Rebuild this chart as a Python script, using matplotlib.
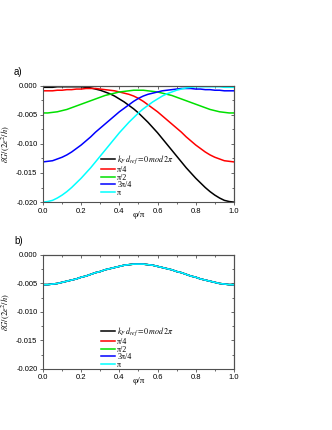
import matplotlib
matplotlib.use("Agg")
import matplotlib.pyplot as plt
from matplotlib.ticker import MultipleLocator, FormatStrFormatter

plt.rcParams['font.family'] = ['Liberation Sans', 'DejaVu Sans']
plt.rcParams['mathtext.fontset'] = 'stix'
plt.rcParams['axes.unicode_minus'] = False

# phase phi/pi, step 0.025
phi = [0.000, 0.025, 0.050, 0.075, 0.100, 0.125, 0.150, 0.175, 0.200, 0.225,
       0.250, 0.275, 0.300, 0.325, 0.350, 0.375, 0.400, 0.425, 0.450, 0.475,
       0.500, 0.525, 0.550, 0.575, 0.600, 0.625, 0.650, 0.675, 0.700, 0.725,
       0.750, 0.775, 0.800, 0.825, 0.850, 0.875, 0.900, 0.925, 0.950, 0.975,
       1.000]

# panel a)
a_0 = [-0.0003, -0.0003, -0.0003, -0.0002, -0.0002, -0.0002, -0.0002, -0.0002,
       -0.0002, -0.0003, -0.0004, -0.0006, -0.0008, -0.0011, -0.0014, -0.0018,
       -0.0023, -0.0028, -0.0034, -0.0040, -0.0047, -0.0055, -0.0063, -0.0072,
       -0.0081, -0.0091, -0.0101, -0.0111, -0.0121, -0.0131, -0.0141, -0.0150,
       -0.0159, -0.0167, -0.0175, -0.0182, -0.0188, -0.0193, -0.0197, -0.0199,
       -0.0200]
a_pi4 = [-0.0009, -0.0009, -0.0009, -0.0008, -0.0008, -0.0007, -0.0007, -0.0006,
         -0.0006, -0.0005, -0.0005, -0.0005, -0.0006, -0.0007, -0.0008, -0.0009,
         -0.0011, -0.0013, -0.0015, -0.0018, -0.0022, -0.0027, -0.0033, -0.0039,
         -0.0045, -0.0052, -0.0059, -0.0066, -0.0073, -0.0080, -0.0088, -0.0095,
         -0.0102, -0.0108, -0.0114, -0.0119, -0.0123, -0.0126, -0.0129, -0.0130,
         -0.0131]
a_pi2 = [-0.0047, -0.0047, -0.0046, -0.0045, -0.0043, -0.0041, -0.0038, -0.0035,
         -0.0032, -0.0029, -0.0026, -0.0023, -0.0020, -0.0017, -0.0015, -0.0013,
         -0.0011, -0.0010, -0.0009, -0.0008, -0.0008, -0.0008, -0.0009, -0.0010,
         -0.0011, -0.0013, -0.0015, -0.0017, -0.0020, -0.0023, -0.0026, -0.0029,
         -0.0032, -0.0035, -0.0038, -0.0041, -0.0043, -0.0045, -0.0046, -0.0047,
         -0.0047]
a_3pi4 = [-0.0131, -0.0130, -0.0129, -0.0126, -0.0123, -0.0119, -0.0114, -0.0108,
          -0.0102, -0.0095, -0.0088, -0.0080, -0.0073, -0.0066, -0.0059, -0.0052,
          -0.0045, -0.0039, -0.0033, -0.0027, -0.0022, -0.0018, -0.0015, -0.0013,
          -0.0011, -0.0009, -0.0008, -0.0007, -0.0006, -0.0005, -0.0005, -0.0005,
          -0.0006, -0.0006, -0.0007, -0.0007, -0.0008, -0.0008, -0.0009, -0.0009,
          -0.0009]
a_pi = [-0.0200, -0.0199, -0.0197, -0.0193, -0.0188, -0.0182, -0.0175, -0.0167,
        -0.0159, -0.0150, -0.0141, -0.0131, -0.0121, -0.0111, -0.0101, -0.0091,
        -0.0081, -0.0072, -0.0063, -0.0055, -0.0047, -0.0040, -0.0034, -0.0028,
        -0.0023, -0.0018, -0.0014, -0.0011, -0.0008, -0.0006, -0.0004, -0.0003,
        -0.0002, -0.0002, -0.0002, -0.0002, -0.0002, -0.0002, -0.0003, -0.0003,
        -0.0003]

# panel b), all five curves coincide
b_all = [-0.0052, -0.0052, -0.0051, -0.0050, -0.0048, -0.0046, -0.0044, -0.0042,
         -0.0039, -0.0037, -0.0034, -0.0031, -0.0029, -0.0026, -0.0024, -0.0022,
         -0.0020, -0.0018, -0.0017, -0.0016, -0.0016, -0.0016, -0.0017, -0.0018,
         -0.0020, -0.0022, -0.0024, -0.0026, -0.0029, -0.0031, -0.0034, -0.0037,
         -0.0039, -0.0042, -0.0044, -0.0046, -0.0048, -0.0050, -0.0051, -0.0052,
         -0.0052]

labels = [r"$k_F\,d_{ref}=0\,mod\,2\pi$", "π/4", "π/2", "3π/4", "π"]
colors = ["#000000", "#ff0000", "#00e000", "#0000ff", "#00ffff"]
panel_a = [a_0, a_pi4, a_pi2, a_3pi4, a_pi]
panel_b = [b_all] * 5

spine_col = "#505050"
serif = ['Liberation Serif', 'DejaVu Serif']


def set_ticks(axis):
    step = 0.2 if axis.axis_name == 'x' else 0.005
    axis.set_major_locator(MultipleLocator(step))
    axis.set_minor_locator(MultipleLocator(step / 2))


def style_axes(ax):
    ax.set_xlim(0, 1)
    ax.set_ylim(-0.020, 0.000)
    set_ticks(ax.xaxis)
    set_ticks(ax.yaxis)
    ax.xaxis.set_major_formatter(FormatStrFormatter('%.1f'))
    ax.yaxis.set_major_formatter(FormatStrFormatter('%.3f'))
    ax.tick_params(which='both', direction='out', labelsize=5.5, width=0.6,
                   color=spine_col, pad=1.5)
    ax.tick_params(which='major', length=2.5)
    ax.tick_params(which='minor', length=1.5)
    for s in ax.spines.values():
        s.set_color(spine_col)
        s.set_linewidth(0.8)
    # top and right ticks point inwards
    top = ax.secondary_xaxis('top')
    right = ax.secondary_yaxis('right')
    set_ticks(top.xaxis)
    set_ticks(right.yaxis)
    for sec in (top, right):
        sec.tick_params(which='both', direction='in', width=0.6,
                        color=spine_col, labelcolor='none', labelsize=1)
        sec.tick_params(which='major', length=2.5)
        sec.tick_params(which='minor', length=1.5)
        for s in sec.spines.values():
            s.set_color(spine_col)
            s.set_linewidth(0.8)
    ax.set_xlabel("φ/π", family=serif, fontsize=6.5)
    ax.xaxis.set_label_coords(0.5, -0.075)
    ax.set_ylabel(r"$\delta G/(2e^2/h)$", fontsize=6)
    ax.yaxis.set_label_coords(-0.16, 0.5)


fig = plt.figure(figsize=(3.32, 4.30), dpi=100)
ax_a = fig.add_axes([0.1295, 0.530, 0.575, 0.271])
ax_b = fig.add_axes([0.1295, 0.142, 0.575, 0.265])

for ax, series, top in ((ax_a, panel_a, 0.445), (ax_b, panel_b, 0.41)):
    for y, lab, c in zip(series, labels, colors):
        ax.plot(phi, y, color=c, lw=1.1, label=lab)
    style_axes(ax)
    leg = ax.legend(loc='upper left', bbox_to_anchor=(0.285, top), frameon=False,
                    fontsize=5.8, handlelength=1.75, handletextpad=0.3,
                    labelspacing=-0.04, borderaxespad=0)
    for t in leg.get_texts()[1:]:
        t.set_family(serif)

fig.text(0.042, 0.833, "a)", fontsize=7, va='center')
fig.text(0.042, 0.440, "b)", fontsize=7, va='center')

fig.savefig("out.png", dpi=100)
